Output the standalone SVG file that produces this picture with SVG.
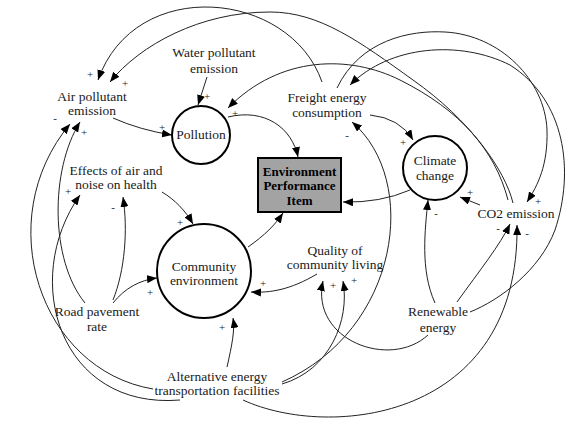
<svg xmlns="http://www.w3.org/2000/svg" width="570" height="426" viewBox="0 0 570 426">
<defs>
<marker id="ah" viewBox="0 0 10 8" refX="10" refY="4" markerWidth="10" markerHeight="8" markerUnits="userSpaceOnUse" orient="auto">
<path d="M0,0 L10,4 L0,8 z" fill="#000"/>
</marker>
</defs>
<style>
text{font-family:"Liberation Serif","Times New Roman",Times,serif;font-size:13.5px;fill:#1a1a1a;text-anchor:middle}
.b{font-weight:bold;fill:#000;font-size:13px}
.s{font-size:11px;fill:#222}
.c{fill:#fff;stroke:#000;stroke-width:2}
#links path{fill:none;stroke:#222;stroke-width:1;marker-end:url(#ah)}
</style>
<rect width="570" height="426" fill="#fff"/>
<g id="links">
<path d="M207,77 L198,105"/>
<path d="M113,118 Q140,130 172,135"/>
<path d="M228,117 C265,108 292,128 298,157"/>
<path d="M508,200 C495,150 460,110 400,80 C350,55 280,55 228,108"/>
<path d="M513,203 C505,170 470,120 413,80 C360,42 320,12 270,12 C200,12 140,45 110,82"/>
<path d="M322,82 C290,-10 135,-25 98,80"/>
<path d="M337,88 C360,40 410,30 445,32 C500,35 545,80 547,130 C548,165 538,185 527,202"/>
<path d="M470,312 C500,300 540,270 555,230 C575,170 565,100 510,65 C460,40 390,45 350,85"/>
<path d="M370,115 Q400,118 413,140"/>
<path d="M282,382 C400,330 420,180 352,122"/>
<path d="M480,205 L460,197"/>
<path d="M410,190 Q380,203 343,202"/>
<path d="M435,303 C420,270 425,230 428,200"/>
<path d="M457,302 C480,270 500,245 510,224"/>
<path d="M243,400 C330,440 520,420 517,225"/>
<path d="M428,335 C390,370 310,340 323,281"/>
<path d="M282,384 C330,370 350,320 343,281"/>
<path d="M227,367 C232,345 235,330 233,318"/>
<path d="M317,274 C290,290 270,293 251,292"/>
<path d="M248,247 C265,235 275,225 283,213"/>
<path d="M162,192 C175,200 185,210 193,224"/>
<path d="M113,303 C125,288 140,280 157,278"/>
<path d="M113,300 C125,270 128,230 123,197"/>
<path d="M85,303 C50,260 50,170 80,122"/>
<path d="M153,389 C40,370 -10,220 70,124"/>
<path d="M180,400 C60,410 20,280 80,195"/>
</g>
<g id="signs">
<text class="s" x="90" y="78">+</text>
<text class="s" x="125" y="87">+</text>
<text class="s" x="207" y="100">+</text>
<text class="s" x="162" y="131">+</text>
<text class="s" x="235" y="117">+</text>
<text class="s" x="55" y="122">-</text>
<text class="s" x="84" y="136">+</text>
<text class="s" x="68" y="195">+</text>
<text class="s" x="113" y="211">-</text>
<text class="s" x="180" y="226">+</text>
<text class="s" x="150" y="296">+</text>
<text class="s" x="263" y="287">+</text>
<text class="s" x="222" y="331">+</text>
<text class="s" x="333" y="289">+</text>
<text class="s" x="354" y="284">+</text>
<text class="s" x="347" y="139">-</text>
<text class="s" x="403" y="146">+</text>
<text class="s" x="470" y="196">+</text>
<text class="s" x="436" y="217">-</text>
<text class="s" x="538" y="205">+</text>
<text class="s" x="498" y="232">-</text>
<text class="s" x="527" y="237">-</text>
</g>
<g id="water"><text x="214" y="57">Water pollutant</text><text x="214" y="73">emission</text></g>
<g id="air"><text x="92" y="101">Air pollutant</text><text x="92" y="115">emission</text></g>
<g id="pollution"><circle class="c" cx="201" cy="135" r="29"/><text x="201" y="139">Pollution</text></g>
<g id="freight"><text x="327" y="102">Freight energy</text><text x="327" y="117">consumption</text></g>
<g id="climate"><circle class="c" cx="435" cy="168" r="32"/><text x="435" y="165">Climate</text><text x="435" y="180">change</text></g>
<g id="epi"><rect x="258" y="158" width="83" height="54" fill="#a3a3a3" stroke="#000" stroke-width="2"/><text class="b" x="299.5" y="176">Environment</text><text class="b" x="299.5" y="190">Performance</text><text class="b" x="299.5" y="205">Item</text></g>
<g id="effects"><text x="116" y="175">Effects of air and</text><text x="116" y="189">noise on health</text></g>
<g id="community"><circle class="c" cx="204" cy="271" r="47"/><text x="204" y="271">Community</text><text x="204" y="285">environment</text></g>
<g id="quality"><text x="335" y="255">Quality of</text><text x="335" y="269">community living</text></g>
<g id="co2"><text x="516" y="218">CO2 emission</text></g>
<g id="road"><text x="97" y="316">Road pavement</text><text x="97" y="331">rate</text></g>
<g id="renewable"><text x="438" y="316">Renewable</text><text x="438" y="332">energy</text></g>
<g id="alt"><text x="217" y="381">Alternative energy</text><text x="217" y="395">transportation facilities</text></g>
</svg>
